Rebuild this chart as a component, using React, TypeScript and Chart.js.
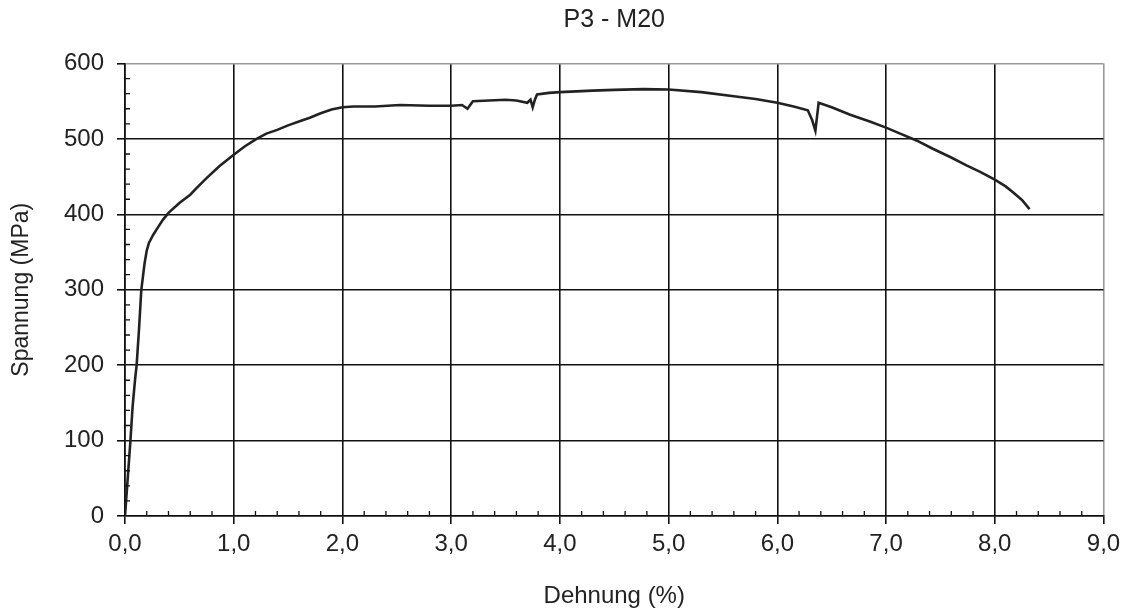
import React, { useEffect, useRef } from "react";
import { Chart, registerables } from "chart.js";

Chart.register(...registerables);

const TITLE = "P3 - M20";
const X_LABEL = "Dehnung (%)";
const Y_LABEL = "Spannung (MPa)";

const strainPct = [
  0, 0.02, 0.05, 0.07, 0.092, 0.107, 0.13, 0.15, 0.18, 0.2, 0.22, 0.26, 0.3, 0.35, 0.4,
  0.5, 0.6, 0.66, 0.75, 0.87, 1.0, 1.1, 1.21, 1.3, 1.4, 1.5, 1.6, 1.7, 1.8, 1.9, 2.0,
  2.1, 2.3, 2.53, 2.8, 3.0, 3.1, 3.15, 3.17, 3.2, 3.35, 3.5, 3.6, 3.7, 3.73, 3.75, 3.77,
  3.79, 3.9, 4.0, 4.3, 4.5, 4.77, 5.0, 5.3, 5.6, 5.8, 6.0, 6.15, 6.28, 6.32, 6.35, 6.38,
  6.5, 6.67, 6.85, 7.0, 7.13, 7.28, 7.43, 7.59, 7.74, 7.87, 8.0, 8.1, 8.17, 8.25, 8.32,
];
const stressMPa = [
  0, 40, 100, 145, 180, 200, 250, 300, 335, 352, 362, 373, 382, 393, 402,
  415, 426, 435, 448, 464, 479, 490, 500, 507, 512, 518, 523, 528, 534, 539, 542,
  543, 543, 545, 544, 544, 545, 540, 544, 550, 551, 552, 551, 548, 552, 542, 552,
  559, 561, 562, 564, 565, 566, 565.5, 562, 556.6, 553, 548, 543, 538, 525, 511, 548,
  542, 532, 523, 515, 507, 498, 487, 476, 465, 456, 446, 437, 429, 419, 407,
];

const X_MIN = 0, X_MAX = 9, X_STEP = 1, X_MINOR = 0.2;
const Y_MIN = 0, Y_MAX = 600, Y_STEP = 100, Y_MINOR = 20;

const FONT = "'Liberation Sans', Arial, sans-serif";
const TEXT = "#222";

const minorTicks = {
  id: "minorTicks",
  afterDraw(chart: any) {
    const { ctx, chartArea, scales } = chart;
    const xs = scales.x, ys = scales.y;
    ctx.save();
    ctx.strokeStyle = "#111";
    ctx.lineWidth = 1.3;
    ctx.beginPath();
    for (let v = X_MIN; v <= X_MAX + 1e-9; v += X_MINOR) {
      const r = Math.round(v * 10) / 10;
      if (Math.abs(r % X_STEP) < 1e-6) continue;
      const px = xs.getPixelForValue(r);
      ctx.moveTo(px, chartArea.bottom);
      ctx.lineTo(px, chartArea.bottom - 5);
    }
    for (let v = Y_MIN; v <= Y_MAX; v += Y_MINOR) {
      if (v % Y_STEP === 0) continue;
      const py = ys.getPixelForValue(v);
      ctx.moveTo(chartArea.left, py);
      ctx.lineTo(chartArea.left + 5, py);
    }
    ctx.stroke();
    ctx.restore();
  },
};

export default function App() {
  const ref = useRef<HTMLCanvasElement>(null);
  useEffect(() => {
    if (!ref.current) return;
    const points = strainPct.map((x, i) => ({ x, y: stressMPa[i] }));
    const chart = new Chart(ref.current, {
      type: "scatter",
      data: {
        datasets: [
          {
            data: points,
            showLine: true,
            borderColor: "#222",
            borderWidth: 2.6,
            pointRadius: 0,
            tension: 0,
          },
        ],
      },
      options: {
        animation: false,
        responsive: false,
        layout: { padding: { left: 0, right: 25.5, top: 0, bottom: 0 } },
        plugins: {
          legend: { display: false },
          tooltip: { enabled: false },
          title: {
            display: true,
            text: TITLE,
            fullSize: false,
            color: TEXT,
            font: { family: FONT, size: 25, weight: "normal" },
            padding: { top: 5, bottom: 28.5 },
          },
        },
        scales: {
          x: {
            type: "linear",
            min: X_MIN,
            max: X_MAX,
            afterFit(scale: any) {
              scale.height = 100;
            },
            ticks: {
              stepSize: X_STEP,
              padding: 6.2,
              color: TEXT,
              font: { family: FONT, size: 24 },
              callback: (v: any) => Number(v).toFixed(1).replace(".", ","),
            },
            grid: {
              color: (c: any) => (c.tick && c.tick.value === X_MAX ? "#9a9a9a" : "#111"),
              lineWidth: 1.6,
              tickLength: 8,
              tickColor: "#111",
            },
            border: { display: true, color: "#111", width: 1.6 },
            title: {
              display: true,
              text: X_LABEL,
              color: TEXT,
              font: { family: FONT, size: 24 },
              padding: { top: 0, bottom: 5.6 },
            },
          },
          y: {
            type: "linear",
            min: Y_MIN,
            max: Y_MAX,
            afterFit(scale: any) {
              scale.width = 125;
            },
            ticks: {
              stepSize: Y_STEP,
              padding: 13,
              color: TEXT,
              font: { family: FONT, size: 24 },
            },
            grid: {
              color: (c: any) => (c.tick && c.tick.value === Y_MAX ? "#9a9a9a" : "#111"),
              lineWidth: 1.6,
              tickLength: 8,
              tickColor: "#111",
            },
            border: { display: true, color: "#111", width: 1.6 },
            title: {
              display: true,
              text: Y_LABEL,
              color: TEXT,
              font: { family: FONT, size: 23 },
              padding: { top: 8, bottom: 0 },
            },
          },
        },
      },
      plugins: [minorTicks],
    });
    return () => chart.destroy();
  }, []);
  return (
    <div style={{ position: "absolute", left: 0, top: 0, width: 1129, height: 616, background: "#fff" }}>
      <canvas ref={ref} width={1129} height={616} style={{ display: "block" }} />
    </div>
  );
}
